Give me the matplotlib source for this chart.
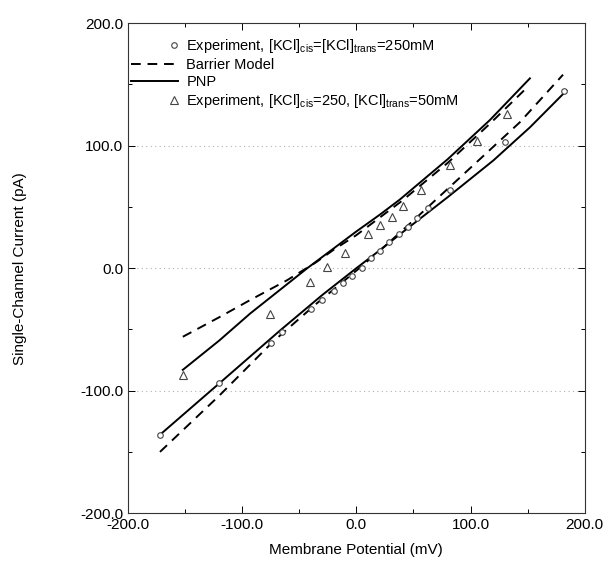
import numpy as np
import matplotlib
matplotlib.use('Agg')
import matplotlib.pyplot as plt
from matplotlib.legend_handler import HandlerLine2D
from matplotlib.lines import Line2D
from matplotlib.ticker import MultipleLocator, FormatStrFormatter

plt.rcParams['font.family'] = ['Liberation Sans', 'DejaVu Sans']
plt.rcParams['mathtext.default'] = 'regular'

# symmetric 250 mM experiment (circles)
sym_v = [-172, -120, -75, -65, -40, -30, -20, -12, -4, 5, 13, 21, 29, 37, 45, 53, 63, 82, 130, 182]
sym_i = [-136, -94, -61, -52, -33, -26, -19, -12, -6, 0, 8, 14, 21, 28, 34, 41, 49, 64, 103, 145]

# asymmetric 250/50 mM experiment (triangles)
asym_v = [-152, -76, -41, -26, -10, 10, 21, 31, 41, 57, 82, 106, 132]
asym_i = [-87, -37, -11, 1, 12, 28, 35, 42, 51, 64, 84, 104, 126]

# model curves
pnp_sym_v = [-172, -120, -67, -30, 0, 21, 40, 80, 120, 152, 184]
pnp_sym_i = [-136, -94, -51, -22, 0, 15, 29, 58, 88, 115, 145]
bar_sym_v = [-172, -120, -73, -35, 0, 25, 50, 100, 143, 181]
bar_sym_i = [-150, -104, -60, -29, -2, 18, 39, 82, 119, 158]
pnp_asym_v = [-152, -120, -93, -43, 0, 21, 38, 80, 117, 152]
pnp_asym_i = [-83, -59, -37, 0, 30, 44, 56, 89, 121, 155]
bar_asym_v = [-152, -120, -93, -61, -35, -20, 0, 40, 80, 117, 150]
bar_asym_i = [-56, -40, -26, -10, 5, 15, 27, 55, 86, 118, 148]


class RightMarker(HandlerLine2D):
    # single legend marker near the right end of the handle area
    def create_artists(self, legend, orig_handle, xdescent, ydescent,
                       width, height, fontsize, trans):
        y = (height - ydescent) / 2
        mk = Line2D([-xdescent + width * 0.92], [y])
        self.update_prop(mk, orig_handle, legend)
        mk.set_linestyle('none')
        mk.set_transform(trans)
        return [mk]


fig = plt.figure(figsize=(6.11, 5.67), dpi=100)
ax = fig.add_axes([0.2095, 0.095, 0.7475, 0.864])

dash = (0, (5, 3.5))
ax.plot(bar_sym_v, bar_sym_i, color='black', lw=1.4, ls=dash)
ax.plot(bar_asym_v, bar_asym_i, color='black', lw=1.4, ls=dash)
ax.plot(pnp_sym_v, pnp_sym_i, color='black', lw=1.4)
ax.plot(pnp_asym_v, pnp_asym_i, color='black', lw=1.4)

h1, = ax.plot(sym_v, sym_i, ls='none', marker='o', ms=4, mfc='white', mec='#444444', mew=0.8)
h4, = ax.plot(asym_v, asym_i, ls='none', marker='^', ms=6, mfc='white', mec='#444444', mew=0.8)
h2, = ax.plot([], [], color='black', lw=1.4, ls=dash)
h3, = ax.plot([], [], color='black', lw=1.4)

for yv in [-100, 0, 100]:
    ax.axhline(yv, color='#b0b0b0', lw=0.8, ls=(0, (1, 3)), zorder=0)

ax.set_xlim(-200, 200)
ax.set_ylim(-200, 200)
ax.xaxis.set_major_locator(MultipleLocator(100))
ax.xaxis.set_minor_locator(MultipleLocator(50))
ax.yaxis.set_major_locator(MultipleLocator(100))
ax.yaxis.set_minor_locator(MultipleLocator(50))
ax.xaxis.set_major_formatter(FormatStrFormatter('%.1f'))
ax.yaxis.set_major_formatter(FormatStrFormatter('%.1f'))
ax.tick_params(which='both', direction='in', top=True, right=True, labelsize=11, width=0.7)
ax.tick_params(which='major', length=5)
ax.tick_params(which='minor', length=3)
for s in ax.spines.values():
    s.set_linewidth(0.8)
    s.set_color('#333333')

ax.set_xlabel('Membrane Potential (mV)', fontsize=11, labelpad=8)
ax.set_ylabel('Single-Channel Current (pA)', fontsize=11, labelpad=38)

labels = [r'Experiment, [KCl]$_{cis}$=[KCl]$_{trans}$=250mM',
          'Barrier Model',
          'PNP',
          r'Experiment, [KCl]$_{cis}$=250, [KCl]$_{trans}$=50mM']
ax.legend([h1, h2, h3, h4], labels, loc='upper left', bbox_to_anchor=(-0.022, 0.998),
          frameon=False, fontsize=10.5, handlelength=3.2, handletextpad=0.6,
          labelspacing=0.2, numpoints=1,
          handler_map={h1: RightMarker(), h4: RightMarker()})

fig.savefig('out.png', dpi=100)
